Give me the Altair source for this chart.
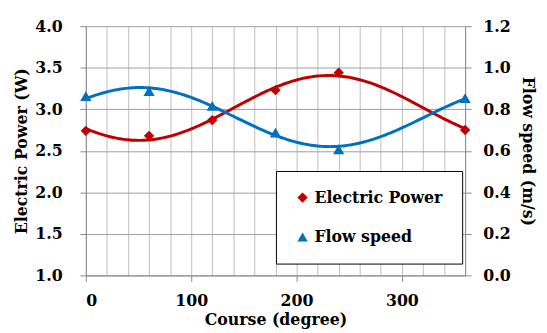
import altair as alt
import pandas as pd

course = [0, 60, 120, 180, 240, 360]
power = [2.74, 2.68, 2.87, 3.23, 3.44, 2.75]
speed = [0.863, 0.887, 0.816, 0.688, 0.607, 0.854]
x_grid = list(range(0, 361, 20))

df_p = pd.DataFrame({"course": course, "value": power, "series": "Electric Power"})
df_s = pd.DataFrame({"course": course, "value": speed, "series": "Flow speed"})

RED = "#C00000"
BLUE = "#0070C0"
FONT = "DejaVu Serif"
FS = 16

xscale = alt.Scale(domain=[0, 360], nice=False)
xaxis = alt.Axis(
    values=x_grid,
    labelExpr="datum.value % 100 === 0 ? datum.label : ''",
    tickOpacity={"condition": {"test": "datum.value % 100 === 0", "value": 1}, "value": 0},
    gridColor="#bdbdbd", grid=True, title="Course (degree)", titlePadding=3, labelPadding=12,
    labelFont=FONT, titleFont=FONT,
)

color_enc = alt.Color(
    "series:N",
    scale=alt.Scale(domain=["Electric Power", "Flow speed"], range=[RED, BLUE]),
    legend=alt.Legend(
        title=None, orient="none", legendX=193, legendY=147,
        fillColor="white", strokeColor="black", padding=19,
        rowPadding=24, symbolSize=110, symbolStrokeWidth=0, labelOffset=4,
        labelFont=FONT,
    ),
)
shape_enc = alt.Shape(
    "series:N",
    scale=alt.Scale(domain=["Electric Power", "Flow speed"], range=["diamond", "triangle-up"]),
    legend=None,
)

yl_axis = alt.Axis(
    values=[1.0, 1.5, 2.0, 2.5, 3.0, 3.5, 4.0], format=".1f", gridColor="#a0a0a0",
    labelPadding=18, title="Electric Power (W)", titlePadding=5, labelFont=FONT, titleFont=FONT,
)
yr_axis = alt.Axis(
    values=[0.0, 0.2, 0.4, 0.6, 0.8, 1.0, 1.2], format=".1f", grid=False, orient="right",
    labelPadding=12, title="Flow speed (m/s)", titlePadding=9, labelFont=FONT, titleFont=FONT,
)

yl = alt.Y("value:Q", scale=alt.Scale(domain=[1.0, 4.0], nice=False), axis=yl_axis)
yr = alt.Y("value:Q", scale=alt.Scale(domain=[0.0, 1.2], nice=False), axis=yr_axis)


def sine_fit(df):
    """Least-squares fit value = a + b*cos(course) + d*sin(course), done by Vega transforms."""
    return (
        alt.Chart(df)
        .transform_calculate(
            c="cos(datum.course*PI/180)", s="sin(datum.course*PI/180)",
        )
        .transform_calculate(
            cc="datum.c*datum.c", ss="datum.s*datum.s", cs="datum.c*datum.s",
            yc="datum.value*datum.c", ys="datum.value*datum.s",
        )
        .transform_joinaggregate(
            n="count()", Sc="sum(c)", Ss="sum(s)", Scc="sum(cc)", Sss="sum(ss)",
            Scs="sum(cs)", Sy="sum(value)", Syc="sum(yc)", Sys="sum(ys)",
        )
        .transform_window(rn="row_number()")
        .transform_filter("datum.rn == 1")
        .transform_calculate(
            det="datum.n*(datum.Scc*datum.Sss-datum.Scs*datum.Scs)"
                "-datum.Sc*(datum.Sc*datum.Sss-datum.Scs*datum.Ss)"
                "+datum.Ss*(datum.Sc*datum.Scs-datum.Scc*datum.Ss)",
            da="datum.Sy*(datum.Scc*datum.Sss-datum.Scs*datum.Scs)"
               "-datum.Sc*(datum.Syc*datum.Sss-datum.Scs*datum.Sys)"
               "+datum.Ss*(datum.Syc*datum.Scs-datum.Scc*datum.Sys)",
            db="datum.n*(datum.Syc*datum.Sss-datum.Scs*datum.Sys)"
               "-datum.Sy*(datum.Sc*datum.Sss-datum.Scs*datum.Ss)"
               "+datum.Ss*(datum.Sc*datum.Sys-datum.Syc*datum.Ss)",
            dd="datum.n*(datum.Scc*datum.Sys-datum.Syc*datum.Scs)"
               "-datum.Sc*(datum.Sc*datum.Sys-datum.Syc*datum.Ss)"
               "+datum.Sy*(datum.Sc*datum.Scs-datum.Scc*datum.Ss)",
            xs="sequence(0, 362, 2)",
        )
        .transform_flatten(["xs"])
        .transform_calculate(
            fit="(datum.da + datum.db*cos(datum.xs*PI/180) + datum.dd*sin(datum.xs*PI/180))/datum.det"
        )
    )


p_line = sine_fit(df_p).mark_line(color=RED, strokeWidth=3).encode(
    x=alt.X("xs:Q", scale=xscale, axis=xaxis),
    y=alt.Y("fit:Q", scale=alt.Scale(domain=[1.0, 4.0], nice=False), axis=yl_axis),
)
p_pts = alt.Chart(df_p).mark_point(filled=True, size=110, opacity=1).encode(
    x=alt.X("course:Q", scale=xscale, axis=xaxis), y=yl, color=color_enc, shape=shape_enc
)
s_line = sine_fit(df_s).mark_line(color=BLUE, strokeWidth=3).encode(
    x=alt.X("xs:Q", scale=xscale, axis=xaxis),
    y=alt.Y("fit:Q", scale=alt.Scale(domain=[0.0, 1.2], nice=False), axis=yr_axis),
)
s_pts = alt.Chart(df_s).mark_point(filled=True, size=130, opacity=1).encode(
    x=alt.X("course:Q", scale=xscale, axis=xaxis), y=yr, color=color_enc, shape=shape_enc
)

left = alt.layer(p_line, p_pts)
right = alt.layer(s_line, s_pts)

chart = alt.layer(left, right).resolve_scale(y="independent").properties(
    width=385, height=253,
    autosize=alt.AutoSizeParams(type="none"),
    padding={"left": 79, "top": 16, "right": 75, "bottom": 56},
).configure(background="white").configure_view(stroke=None).configure_axis(
    labelFontSize=FS, labelFontWeight="bold", labelColor="black",
    titleFontSize=FS, titleFontWeight="bold", titleColor="black",
    domainColor="#888888", tickColor="#888888", tickSize=6,
).configure_legend(
    labelFontSize=FS, labelFontWeight="bold", labelColor="black",
)

chart.save("out.html", embed_options={"renderer": "svg", "actions": False})
